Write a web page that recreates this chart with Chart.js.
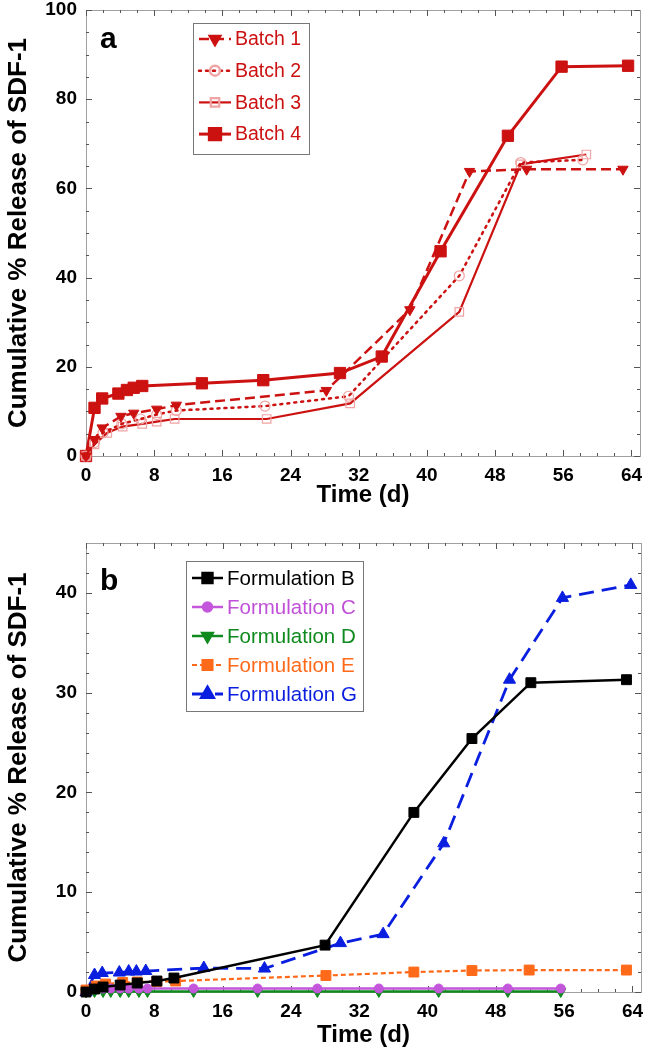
<!DOCTYPE html>
<html>
<head>
<meta charset="utf-8">
<title>Cumulative release of SDF-1</title>
<script src="https://cdn.jsdelivr.net/npm/chart.js@4.4.1/dist/chart.umd.min.js"></script>
<style>
  body { margin: 0; background: #fff; }
  canvas { position: absolute; left: 0; }
  #chartA { top: 0; }
  #chartB { top: 510px; }
</style>
</head>
<body>
<canvas id="chartA" width="649" height="510"></canvas>
<canvas id="chartB" width="649" height="540"></canvas>
<script>
// ---- panel a : batches ----
var batch1Days    = [0, 1, 1.9, 4.1, 5.6, 8.3, 10.6, 28.2, 38, 45, 51.7, 63];
var batch1Release = [0, 3.7, 6.3, 8.9, 9.6, 10.5, 11.4, 14.7, 32.8, 63.8, 64.3, 64.3];
var batch2Days    = [0, 1, 2, 4.2, 6.4, 8.3, 10.6, 21, 30.8, 43.8, 51, 58.3];
var batch2Release = [0, 3.0, 5.2, 7.2, 8.3, 9.3, 10.2, 11.2, 13.4, 40.4, 65.8, 66.4];
var batch3Days    = [0, 1, 2.5, 4.3, 6.6, 8.3, 10.4, 21.2, 31, 43.8, 51, 58.7];
var batch3Release = [0, 2.6, 5.2, 6.6, 7.2, 7.7, 8.3, 8.3, 11.8, 32.3, 65.4, 67.6];
var batch4Days    = [0, 1, 1.9, 3.8, 4.8, 5.6, 6.6, 13.6, 20.8, 29.8, 34.7, 41.6, 49.5, 55.8, 63.6];
var batch4Release = [0, 10.8, 12.9, 14.0, 14.8, 15.3, 15.7, 16.3, 17.0, 18.6, 22.3, 45.9, 71.8, 87.3, 87.5];

// ---- panel b : formulations ----
var formBDays    = [0, 1, 2, 4, 6, 8.3, 10.3, 28, 38.4, 45.2, 52.1, 63.3];
var formBRelease = [0, 0.3, 0.5, 0.7, 0.9, 1.1, 1.4, 4.7, 18.0, 25.4, 31.0, 31.3];
var formCDays    = [0, 1, 2, 2.9, 4, 5, 6.2, 7.2, 12.6, 20.1, 27.1, 34.3, 41.3, 49.4, 55.6];
var formCRelease = [0, 0.3, 0.35, 0.35, 0.35, 0.35, 0.35, 0.35, 0.35, 0.35, 0.35, 0.35, 0.35, 0.35, 0.35];
var formDDays    = [0, 1, 2, 2.9, 4, 5, 6.2, 7.2, 12.6, 20.1, 27.1, 34.3, 41.3, 49.4, 55.6];
var formDRelease = [0, 0.05, 0.05, 0.05, 0.05, 0.05, 0.05, 0.05, 0.05, 0.05, 0.05, 0.05, 0.05, 0.05, 0.05];
var formEDays    = [0, 1.2, 2.3, 4.3, 6, 8.3, 10.5, 28.1, 38.4, 45.2, 51.9, 63.3];
var formERelease = [0.2, 0.6, 0.8, 0.95, 1.0, 1.05, 1.1, 1.65, 2.0, 2.15, 2.2, 2.2];
var formGDays    = [0, 1, 1.9, 3.9, 5, 5.9, 7, 13.8, 20.9, 29.8, 34.8, 41.9, 49.6, 55.8, 63.8];
var formGRelease = [0, 1.7, 1.9, 1.95, 2.05, 2.05, 2.1, 2.4, 2.35, 4.9, 5.8, 14.9, 31.3, 39.5, 40.8];

var xTicks  = [0, 8, 16, 24, 32, 40, 48, 56, 64];
var yTicksA = [0, 20, 40, 60, 80, 100];
var yTicksB = [0, 10, 20, 30, 40];

var FONT = "'Liberation Sans', Arial, sans-serif";
var RED = '#cc1111';
var PINK = '#f0a4a4';

function toPoints(days, values) {
    return days.map(function (d, i) { return { x: d, y: values[i] }; });
}

// frame with inward ticks on all four sides, panel letter and legend box
var framePlugin = {
    id: 'frame',
    beforeDatasetsDraw: function (chart, args, opts) {
        var ctx = chart.ctx, a = chart.chartArea;
        var xs = chart.scales.x, ys = chart.scales.y;
        ctx.save();
        ctx.strokeStyle = '#a0a0a0';
        ctx.lineWidth = 1;
        ctx.strokeRect(a.left + 0.5, a.top + 0.5, a.right - a.left, a.bottom - a.top);
        ctx.strokeStyle = '#555';
        ctx.beginPath();
        for (var i = 0; i * opts.xMinor <= xs.max; i++) {
            var v = i * opts.xMinor;
            var px = Math.round(xs.getPixelForValue(v)) + 0.5;
            var len = (v % opts.xMajor === 0) ? 6 : 3;
            ctx.moveTo(px, a.bottom); ctx.lineTo(px, a.bottom - len);
            ctx.moveTo(px, a.top); ctx.lineTo(px, a.top + len);
        }
        for (var j = 0; j * opts.yMinor <= ys.max; j++) {
            var w = j * opts.yMinor;
            var py = Math.round(ys.getPixelForValue(w)) + 0.5;
            var l2 = (w % opts.yMajor === 0) ? 6 : 3;
            ctx.moveTo(a.left, py); ctx.lineTo(a.left + l2, py);
            ctx.moveTo(a.right, py); ctx.lineTo(a.right - l2, py);
        }
        ctx.stroke();
        ctx.restore();
    },
    afterDraw: function (chart, args, opts) {
        var ctx = chart.ctx;
        ctx.save();
        // panel letter
        ctx.fillStyle = '#000';
        ctx.font = 'bold 30px ' + FONT;
        ctx.textBaseline = 'alphabetic';
        ctx.fillText(opts.letter, opts.letterX, opts.letterY);

        // legend box
        var lg = opts.legend;
        ctx.strokeStyle = '#777';
        ctx.lineWidth = 1;
        ctx.fillStyle = '#fff';
        ctx.fillRect(lg.x, lg.y, lg.w, lg.h);
        ctx.strokeRect(lg.x + 0.5, lg.y + 0.5, lg.w, lg.h);
        ctx.font = lg.fontSize + 'px ' + FONT;
        ctx.textBaseline = 'middle';
        chart.data.datasets.forEach(function (ds, k) {
            var ry = lg.y + lg.firstRow + k * lg.rowH;
            ctx.save();
            ctx.strokeStyle = ds.borderColor;
            ctx.lineWidth = ds.borderWidth;
            ctx.lineCap = ds.borderCapStyle || 'butt';
            ctx.setLineDash(ds.borderDash || []);
            ctx.beginPath();
            ctx.moveTo(lg.x + lg.sample0, ry);
            ctx.lineTo(lg.x + lg.sample1, ry);
            ctx.stroke();
            ctx.setLineDash([]);
            ctx.fillStyle = ds.pointBackgroundColor;
            ctx.strokeStyle = ds.pointBorderColor;
            Chart.helpers.drawPoint(ctx, {
                pointStyle: ds.pointStyle,
                rotation: ds.pointRotation || 0,
                radius: ds.pointRadius,
                borderWidth: ds.pointBorderWidth
            }, lg.x + (lg.sample0 + lg.sample1) / 2, ry);
            ctx.restore();
            ctx.fillStyle = ds.legendTextColor;
            ctx.fillText(ds.label, lg.x + lg.textX, ry + 1);
        });
        ctx.restore();
    }
};

function makeScales(yMax, yTicks, xHeight) {
    return {
        x: {
            type: 'linear', min: 0, max: 65,
            afterBuildTicks: function (s) { s.ticks = xTicks.map(function (v) { return { value: v }; }); },
            afterFit: function (s) { s.height = xHeight; s.paddingLeft = 0; s.paddingRight = 0; },
            grid: { display: false, drawTicks: false },
            border: { display: false },
            ticks: { padding: 8, color: '#000', font: { family: FONT, size: 19, weight: 'bold' } },
            title: { display: true, text: 'Time (d)', color: '#000', padding: 0,
                     font: { family: FONT, size: 24, weight: 'bold' } }
        },
        y: {
            type: 'linear', min: 0, max: yMax,
            afterBuildTicks: function (s) { s.ticks = yTicks.map(function (v) { return { value: v }; }); },
            afterFit: function (s) { s.width = 86; s.paddingTop = 0; s.paddingBottom = 0; },
            grid: { display: false, drawTicks: false },
            border: { display: false },
            ticks: { padding: 9, color: '#000', font: { family: FONT, size: 19, weight: 'bold' } },
            title: { display: true, text: 'Cumulative % Release of SDF-1', color: '#000', padding: { top: 3, bottom: 0 },
                     font: { family: FONT, size: 26, weight: 'bold' } }
        }
    };
}

function series(label, days, values, style) {
    var ds = {
        label: label,
        data: toPoints(days, values),
        clip: false,
        tension: 0,
        fill: false,
        borderCapStyle: 'butt'
    };
    for (var k in style) ds[k] = style[k];
    return ds;
}

new Chart(document.getElementById('chartA'), {
    type: 'line',
    data: {
        datasets: [
            series('Batch 1', batch1Days, batch1Release, {
                borderColor: RED, borderWidth: 2.5, borderDash: [10, 5],
                pointStyle: 'triangle', pointRotation: 180, pointRadius: 6,
                pointBackgroundColor: RED, pointBorderColor: RED, pointBorderWidth: 1,
                legendTextColor: RED
            }),
            series('Batch 2', batch2Days, batch2Release, {
                borderColor: RED, borderWidth: 2.5, borderDash: [2, 5], borderCapStyle: 'round',
                pointStyle: 'circle', pointRadius: 5,
                pointBackgroundColor: 'rgba(255,255,255,0)', pointBorderColor: PINK, pointBorderWidth: 1.2,
                legendTextColor: RED
            }),
            series('Batch 3', batch3Days, batch3Release, {
                borderColor: RED, borderWidth: 2.2,
                pointStyle: 'rect', pointRadius: 6,
                pointBackgroundColor: 'rgba(255,255,255,0)', pointBorderColor: PINK, pointBorderWidth: 1.2,
                legendTextColor: RED
            }),
            series('Batch 4', batch4Days, batch4Release, {
                borderColor: RED, borderWidth: 3,
                pointStyle: 'rect', pointRadius: 8,
                pointBackgroundColor: RED, pointBorderColor: RED, pointBorderWidth: 1,
                legendTextColor: RED
            })
        ]
    },
    options: {
        responsive: false,
        animation: false,
        layout: { padding: { top: 10, right: 5, left: 0, bottom: 0 } },
        scales: makeScales(100, yTicksA, 54),
        plugins: {
            legend: { display: false },
            tooltip: { enabled: false },
            frame: {
                xMinor: 2, xMajor: 8, yMinor: 5, yMajor: 20,
                letter: 'a', letterX: 100, letterY: 48,
                legend: { x: 193, y: 23, w: 116, h: 131, firstRow: 16, rowH: 31.7,
                          sample0: 6, sample1: 38, textX: 42, fontSize: 19.5 }
            }
        }
    },
    plugins: [framePlugin]
});

new Chart(document.getElementById('chartB'), {
    type: 'line',
    data: {
        datasets: [
            series('Formulation B', formBDays, formBRelease, {
                borderColor: '#000', borderWidth: 2.5,
                pointStyle: 'rect', pointRadius: 7,
                pointBackgroundColor: '#000', pointBorderColor: '#000', pointBorderWidth: 1,
                legendTextColor: '#000'
            }),
            series('Formulation C', formCDays, formCRelease, {
                borderColor: '#c456dc', borderWidth: 2.5,
                pointStyle: 'circle', pointRadius: 4.5,
                pointBackgroundColor: '#c456dc', pointBorderColor: '#c456dc', pointBorderWidth: 1,
                legendTextColor: '#c050d8'
            }),
            series('Formulation D', formDDays, formDRelease, {
                borderColor: '#0f8a1e', borderWidth: 2.5,
                pointStyle: 'triangle', pointRotation: 180, pointRadius: 6,
                pointBackgroundColor: '#0f8a1e', pointBorderColor: '#0f8a1e', pointBorderWidth: 1,
                legendTextColor: '#0f8a1e'
            }),
            series('Formulation E', formEDays, formERelease, {
                borderColor: '#ff6a1a', borderWidth: 2.2, borderDash: [5, 3],
                pointStyle: 'rect', pointRadius: 7,
                pointBackgroundColor: '#ff6a1a', pointBorderColor: '#ff6a1a', pointBorderWidth: 1,
                legendTextColor: '#ff6a1a'
            }),
            series('Formulation G', formGDays, formGRelease, {
                borderColor: '#0a1ee0', borderWidth: 2.8, borderDash: [15, 8],
                pointStyle: 'triangle', pointRadius: 7,
                pointBackgroundColor: '#0a1ee0', pointBorderColor: '#0a1ee0', pointBorderWidth: 1,
                legendTextColor: '#0a1ee0'
            })
        ]
    },
    options: {
        responsive: false,
        animation: false,
        layout: { padding: { top: 33, right: 5, left: 0, bottom: 0 } },
        scales: makeScales(45, yTicksB, 58),
        plugins: {
            legend: { display: false },
            tooltip: { enabled: false },
            frame: {
                xMinor: 2, xMajor: 8, yMinor: 2, yMajor: 10,
                letter: 'b', letterX: 100, letterY: 80,
                legend: { x: 186, y: 51, w: 177, h: 150, firstRow: 17, rowH: 29,
                          sample0: 6, sample1: 37, textX: 41, fontSize: 20.5 }
            }
        }
    },
    plugins: [framePlugin]
});
</script>
</body>
</html>
